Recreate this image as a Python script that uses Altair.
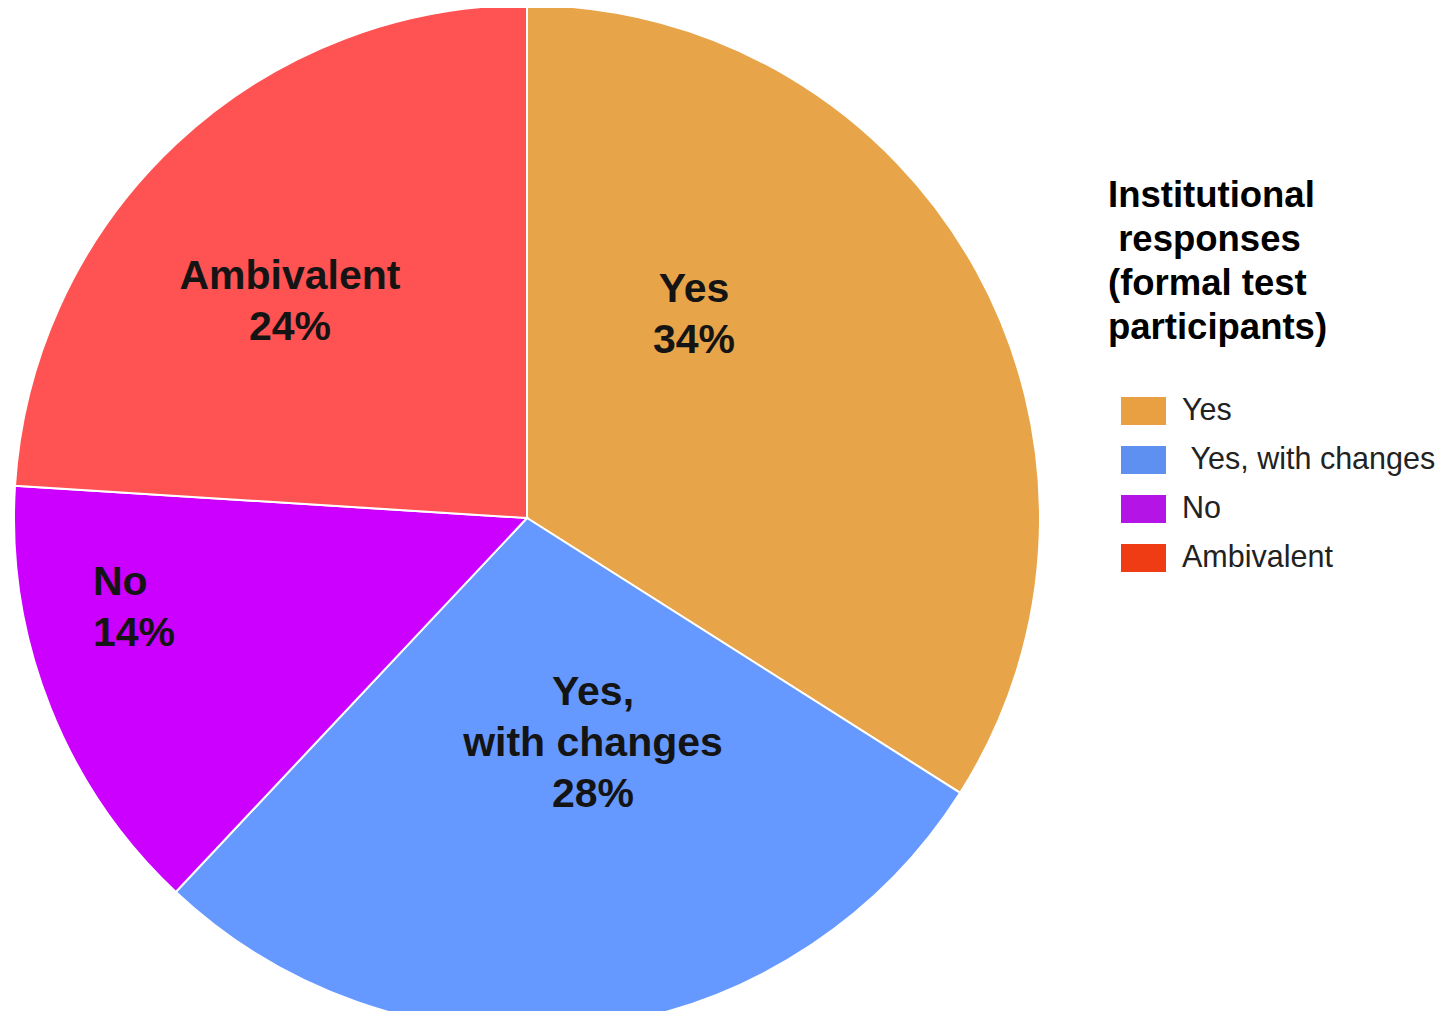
import altair as alt
import pandas as pd

categories = ["Yes", "Yes, with changes", "No", "Ambivalent"]
values = [34, 28, 14, 24]
slice_labels = ["Yes\n34%", "Yes,\nwith changes\n28%", "No\n14%", "Ambivalent\n24%"]
legend_labels = ["Yes", "\u200b\u00a0Yes, with changes", "No", "Ambivalent"]
pie_colors = ["#E8A448", "#6699FF", "#CC00FF", "#FF5252"]
legend_colors = ["#E9A042", "#5E90F2", "#B414E6", "#F03C14"]
legend_title = ["Institutional", "\u200b\u00a0responses", "(formal test", "participants)"]

df = pd.DataFrame({
    "cat": categories,
    "val": values,
    "order": list(range(len(categories))),
    "label": slice_labels,
    "leg": legend_labels,
})

FONT = "Liberation Sans"
CX, CY, R = 519, 510, 513

base = alt.Chart(df)

pie = base.mark_arc(outerRadius=R, stroke="white", strokeWidth=2).encode(
    theta=alt.Theta("val:Q", stack=True),
    order=alt.Order("order:Q"),
    color=alt.Color("cat:N", scale=alt.Scale(domain=categories, range=pie_colors), legend=None),
    x=alt.value(CX),
    y=alt.value(CY),
)

legend_layer = base.mark_square(opacity=0, size=1).encode(
    color=alt.Color(
        "leg:N",
        scale=alt.Scale(domain=legend_labels, range=legend_colors),
        legend=alt.Legend(
            title=legend_title,
            orient="none",
            legendX=1100,
            legendY=170,
            titleFont=FONT,
            titleFontSize=36.5,
            titleFontWeight="bold",
            titleColor="black",
            titleLineHeight=44,
            titleLimit=600,
            titlePadding=42,
            labelFont=FONT,
            labelFontSize=30.5,
            labelColor="#222222",
            labelLimit=600,
            labelOffset=16,
            symbolType="M-1,-0.62L1,-0.62L1,0.62L-1,0.62Z",
            symbolSize=2025,
            symbolOpacity=1,
            symbolStrokeWidth=0,
            symbolOffset=13,
            rowPadding=11,
        ),
    ),
    x=alt.value(-50),
    y=alt.value(-50),
)

def label_layer(cat, x, y, align="center"):
    return base.transform_filter(alt.datum.cat == cat).mark_text(
        font=FONT, fontSize=41, fontWeight="bold", color="#141414",
        lineBreak="\n", lineHeight=51, align=align, baseline="middle",
    ).encode(text="label:N", x=alt.value(x), y=alt.value(y))

labels = [
    label_layer("Yes", 686, 282),
    label_layer("Ambivalent", 282, 269),
    label_layer("No", 85, 575, align="left"),
    label_layer("Yes, with changes", 585, 685),
]

chart = alt.layer(pie, legend_layer, *labels).resolve_scale(color="independent").properties(
    width=1427, height=1003, autosize=alt.AutoSizeParams(type="none"), padding=0,
    background="white",
).configure_view(strokeWidth=0, stroke="transparent")

chart.save("out.html", embed_options={"renderer": "svg", "actions": False})
